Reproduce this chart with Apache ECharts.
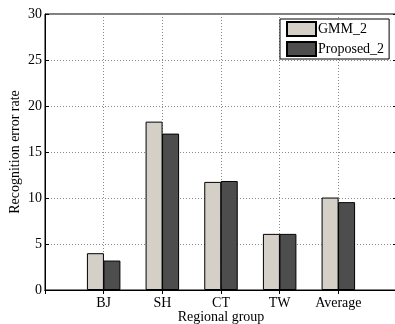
<!DOCTYPE html>
<html>
<head>
<meta charset="utf-8">
<script src="https://cdn.jsdelivr.net/npm/echarts@6/dist/echarts.min.js"></script>
<style>
  html, body { margin: 0; padding: 0; background: #fff; }
  #container { width: 395px; height: 324px; }
</style>
</head>
<body>
<div id="container"></div>
<script>
// categories, with empty slots at both ends (xlim 0..6)
var categories = ['', 'BJ', 'SH', 'CT', 'TW', 'Average', ''];
var gmm2 = ['-', 4.0, 18.3, 11.75, 6.1, 10.05, '-'];
var proposed2 = ['-', 3.2, 17.0, 11.85, 6.1, 9.55, '-'];
var yTicks = [0, 5, 10, 15, 20, 25, 30];

var font = 'Liberation Serif';
var gridLine = { show: true, interval: 0, lineStyle: { color: '#8a8a8a', width: 1, type: [1, 2] } };

var chart = echarts.init(document.getElementById('container'));
var option = {
  backgroundColor: '#fff',
  animation: false,
  textStyle: { fontFamily: font },
  grid: {
    left: 45, top: 14, width: 352, height: 276,
    outerBoundsMode: 'none',
    containLabel: false,
    show: true, borderColor: '#000', borderWidth: 1, backgroundColor: 'transparent'
  },
  legend: {
    left: 280, top: 19,
    orient: 'vertical',
    icon: 'rect',
    itemWidth: 29, itemHeight: 14, itemGap: 4,
    padding: [2, 5, 2, 6],
    borderColor: '#000', borderWidth: 1, borderRadius: 0,
    backgroundColor: '#fff',
    textStyle: { fontFamily: font, fontSize: 14, color: '#000', padding: [0, 0, 0, -3] },
    data: ['GMM_2', 'Proposed_2']
  },
  xAxis: [{
    type: 'category',
    data: categories,
    boundaryGap: false,
    name: 'Regional group',
    nameLocation: 'middle',
    nameGap: 20,
    nameMoveOverlap: false,
    nameTextStyle: { fontFamily: font, fontSize: 14, color: '#000' },
    axisLine: { show: true, lineStyle: { color: '#000', width: 1 } },
    axisTick: { show: true, inside: true, length: 4, interval: 0, lineStyle: { color: '#000' } },
    axisLabel: { fontFamily: font, fontSize: 14, color: '#000', margin: 6, interval: 0 },
    splitLine: gridLine
  }, {
    type: 'category',
    position: 'top',
    data: categories,
    boundaryGap: false,
    axisLine: { show: true, lineStyle: { color: '#000' } },
    axisTick: { show: true, inside: true, length: 4, interval: 0, lineStyle: { color: '#000' } },
    axisLabel: { show: false },
    splitLine: { show: false }
  }],
  yAxis: [{
    type: 'value',
    min: 0, max: 30, interval: 5,
    name: 'Recognition error rate',
    nameLocation: 'middle',
    nameGap: 23,
    nameMoveOverlap: false,
    nameTextStyle: { fontFamily: font, fontSize: 14, color: '#000' },
    axisLine: { show: true, lineStyle: { color: '#000', width: 1 } },
    axisTick: { show: true, inside: true, length: 4, lineStyle: { color: '#000' } },
    axisLabel: {
      fontFamily: font, fontSize: 14, color: '#000', margin: 3,
      formatter: function (v) { return yTicks.indexOf(v) > -1 ? String(v) : ''; }
    },
    splitLine: gridLine
  }, {
    type: 'value',
    position: 'right',
    min: 0, max: 30, interval: 5,
    axisLine: { show: false },
    axisTick: { show: true, inside: true, length: 4, lineStyle: { color: '#000' } },
    axisLabel: { show: false },
    splitLine: { show: false }
  }],
  series: [{
    name: 'GMM_2',
    type: 'bar',
    data: gmm2,
    barWidth: 17,
    barGap: '-3%',
    itemStyle: { color: '#d4d0c8', borderColor: '#000', borderWidth: 1 }
  }, {
    name: 'Proposed_2',
    type: 'bar',
    data: proposed2,
    barWidth: 17,
    barGap: '-3%',
    itemStyle: { color: '#4d4d4d', borderColor: '#000', borderWidth: 1 }
  }]
};
chart.setOption(option);
</script>
</body>
</html>
